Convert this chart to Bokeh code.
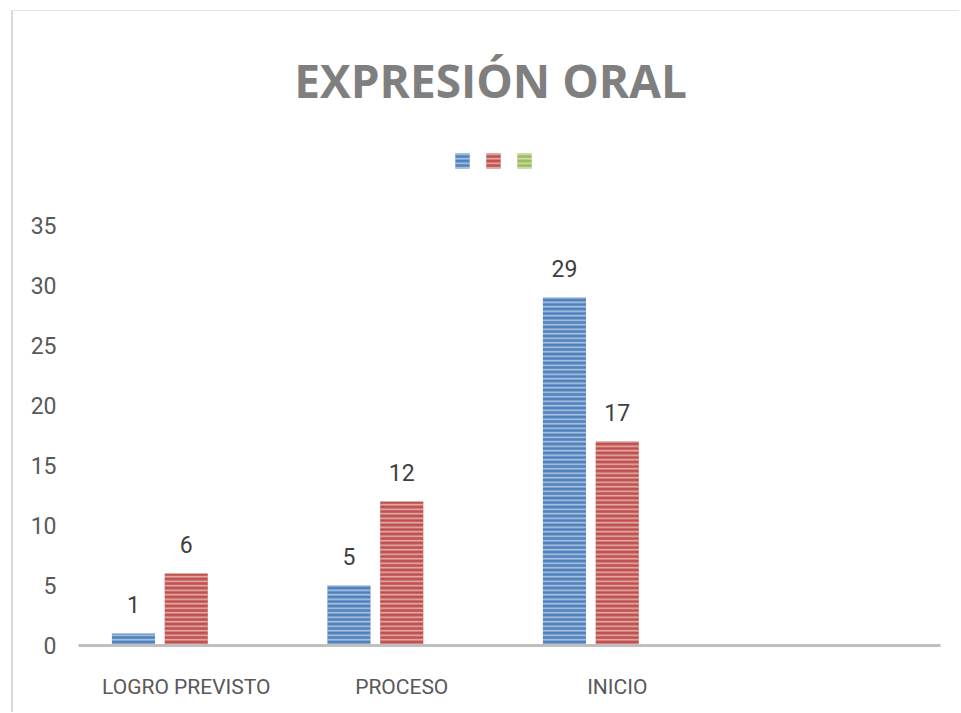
from bokeh.plotting import figure
from bokeh.models import (ColumnDataSource, FactorRange, Range1d, FixedTicker,
                          LabelSet, Label, Legend, LegendItem)
from bokeh.core.properties import value
from bokeh.transform import dodge
from bokeh.embed import file_html
from bokeh.resources import INLINE

# ---- data ----
categories = ["LOGRO PREVISTO", "PROCESO", "INICIO"]
axis_factors = ["LOGRO PREVISTO", "PROCESO", "INICIO", " "]
serie_azul = [1, 5, 29]
serie_roja = [6, 12, 17]
serie_verde = [0, 0, 0]   # third series: no visible bars
y_ticks = [0, 5, 10, 15, 20, 25, 30, 35]
title_text = "EXPRESIÓN ORAL"

BLUE = "#4f81bd"
RED = "#c0504d"
GREEN = "#9bbb59"
FONT = "Roboto"

p = figure(width=948, height=702, output_backend="svg", toolbar_location=None,
           x_range=FactorRange(factors=axis_factors),
           y_range=Range1d(0, 52.83),
           min_border_left=65, min_border_right=21, min_border_top=0,
           min_border_bottom=68)
p.outline_line_color = None
p.background_fill_color = "white"
p.border_fill_color = "white"
p.xgrid.visible = False
p.ygrid.visible = False

src_a = ColumnDataSource(dict(cat=categories, val=serie_azul,
                              txt=[str(v) for v in serie_azul]))
src_r = ColumnDataSource(dict(cat=categories, val=serie_roja,
                              txt=[str(v) for v in serie_roja]))
src_v = ColumnDataSource(dict(cat=categories, val=serie_verde))

common = dict(width=0.2, bottom=0, line_color=None,
              hatch_pattern="horizontal_line", hatch_color="white",
              hatch_alpha=0.55, hatch_scale=4.5, hatch_weight=1.6)

ra = p.vbar(x=dodge("cat", -0.245, range=p.x_range), top="val", source=src_a,
            fill_color=BLUE, **common)
rr = p.vbar(x=dodge("cat", 0.0, range=p.x_range), top="val", source=src_r,
            fill_color=RED, **common)
rv = p.vbar(x=dodge("cat", 0.245, range=p.x_range), top="val", source=src_v,
            fill_color=GREEN, **common)

for src, off in ((src_a, -0.245), (src_r, 0.0)):
    p.add_layout(LabelSet(x=dodge("cat", off, range=p.x_range), y="val",
                          text="txt", source=src, y_offset=29,
                          text_align="center", text_baseline="middle",
                          text_font=value(FONT), text_font_size=value("23px"),
                          text_color=value("#404040")))

# axes
p.yaxis.ticker = FixedTicker(ticks=y_ticks)
p.yaxis.axis_line_color = None
p.yaxis.major_tick_line_color = None
p.yaxis.minor_tick_line_color = None
p.yaxis.major_tick_out = 0
p.yaxis.major_tick_in = 0
p.yaxis.major_label_standoff = 22
p.yaxis.major_label_text_font = FONT
p.yaxis.major_label_text_font_size = "23px"
p.yaxis.major_label_text_color = "#595959"

p.xaxis.axis_line_color = "#bfbfbf"
p.xaxis.axis_line_width = 3
p.xaxis.major_tick_line_color = None
p.xaxis.minor_tick_line_color = None
p.xaxis.major_label_standoff = 23
p.xaxis.major_label_text_font = FONT
p.xaxis.major_label_text_font_size = "21px"
p.xaxis.major_label_text_color = "#595959"

# title
p.add_layout(Label(x=1.912, y=47.15, text=title_text, text_align="center",
                   text_baseline="middle", text_font="Open Sans",
                   text_font_style="bold", text_font_size="46px",
                   text_color="#7f7f7f"))

# legend (markers only, as in the original)
legend = Legend(items=[LegendItem(label=" ", renderers=[ra]),
                       LegendItem(label=" ", renderers=[rr]),
                       LegendItem(label=" ", renderers=[rv])],
                orientation="horizontal", location=(375, 475),
                glyph_width=18, glyph_height=19, label_width=0,
                label_standoff=0, label_text_font_size="1px",
                spacing=13, padding=0, margin=0,
                border_line_color=None, background_fill_alpha=0)
p.add_layout(legend, "center")

p.styles = {"margin-left": "11px", "margin-top": "10px",
            "border-left": "2px solid #d9d9d9", "border-top": "1px solid #e3e3e3"}

open("out.html", "w").write(file_html(p, INLINE))
